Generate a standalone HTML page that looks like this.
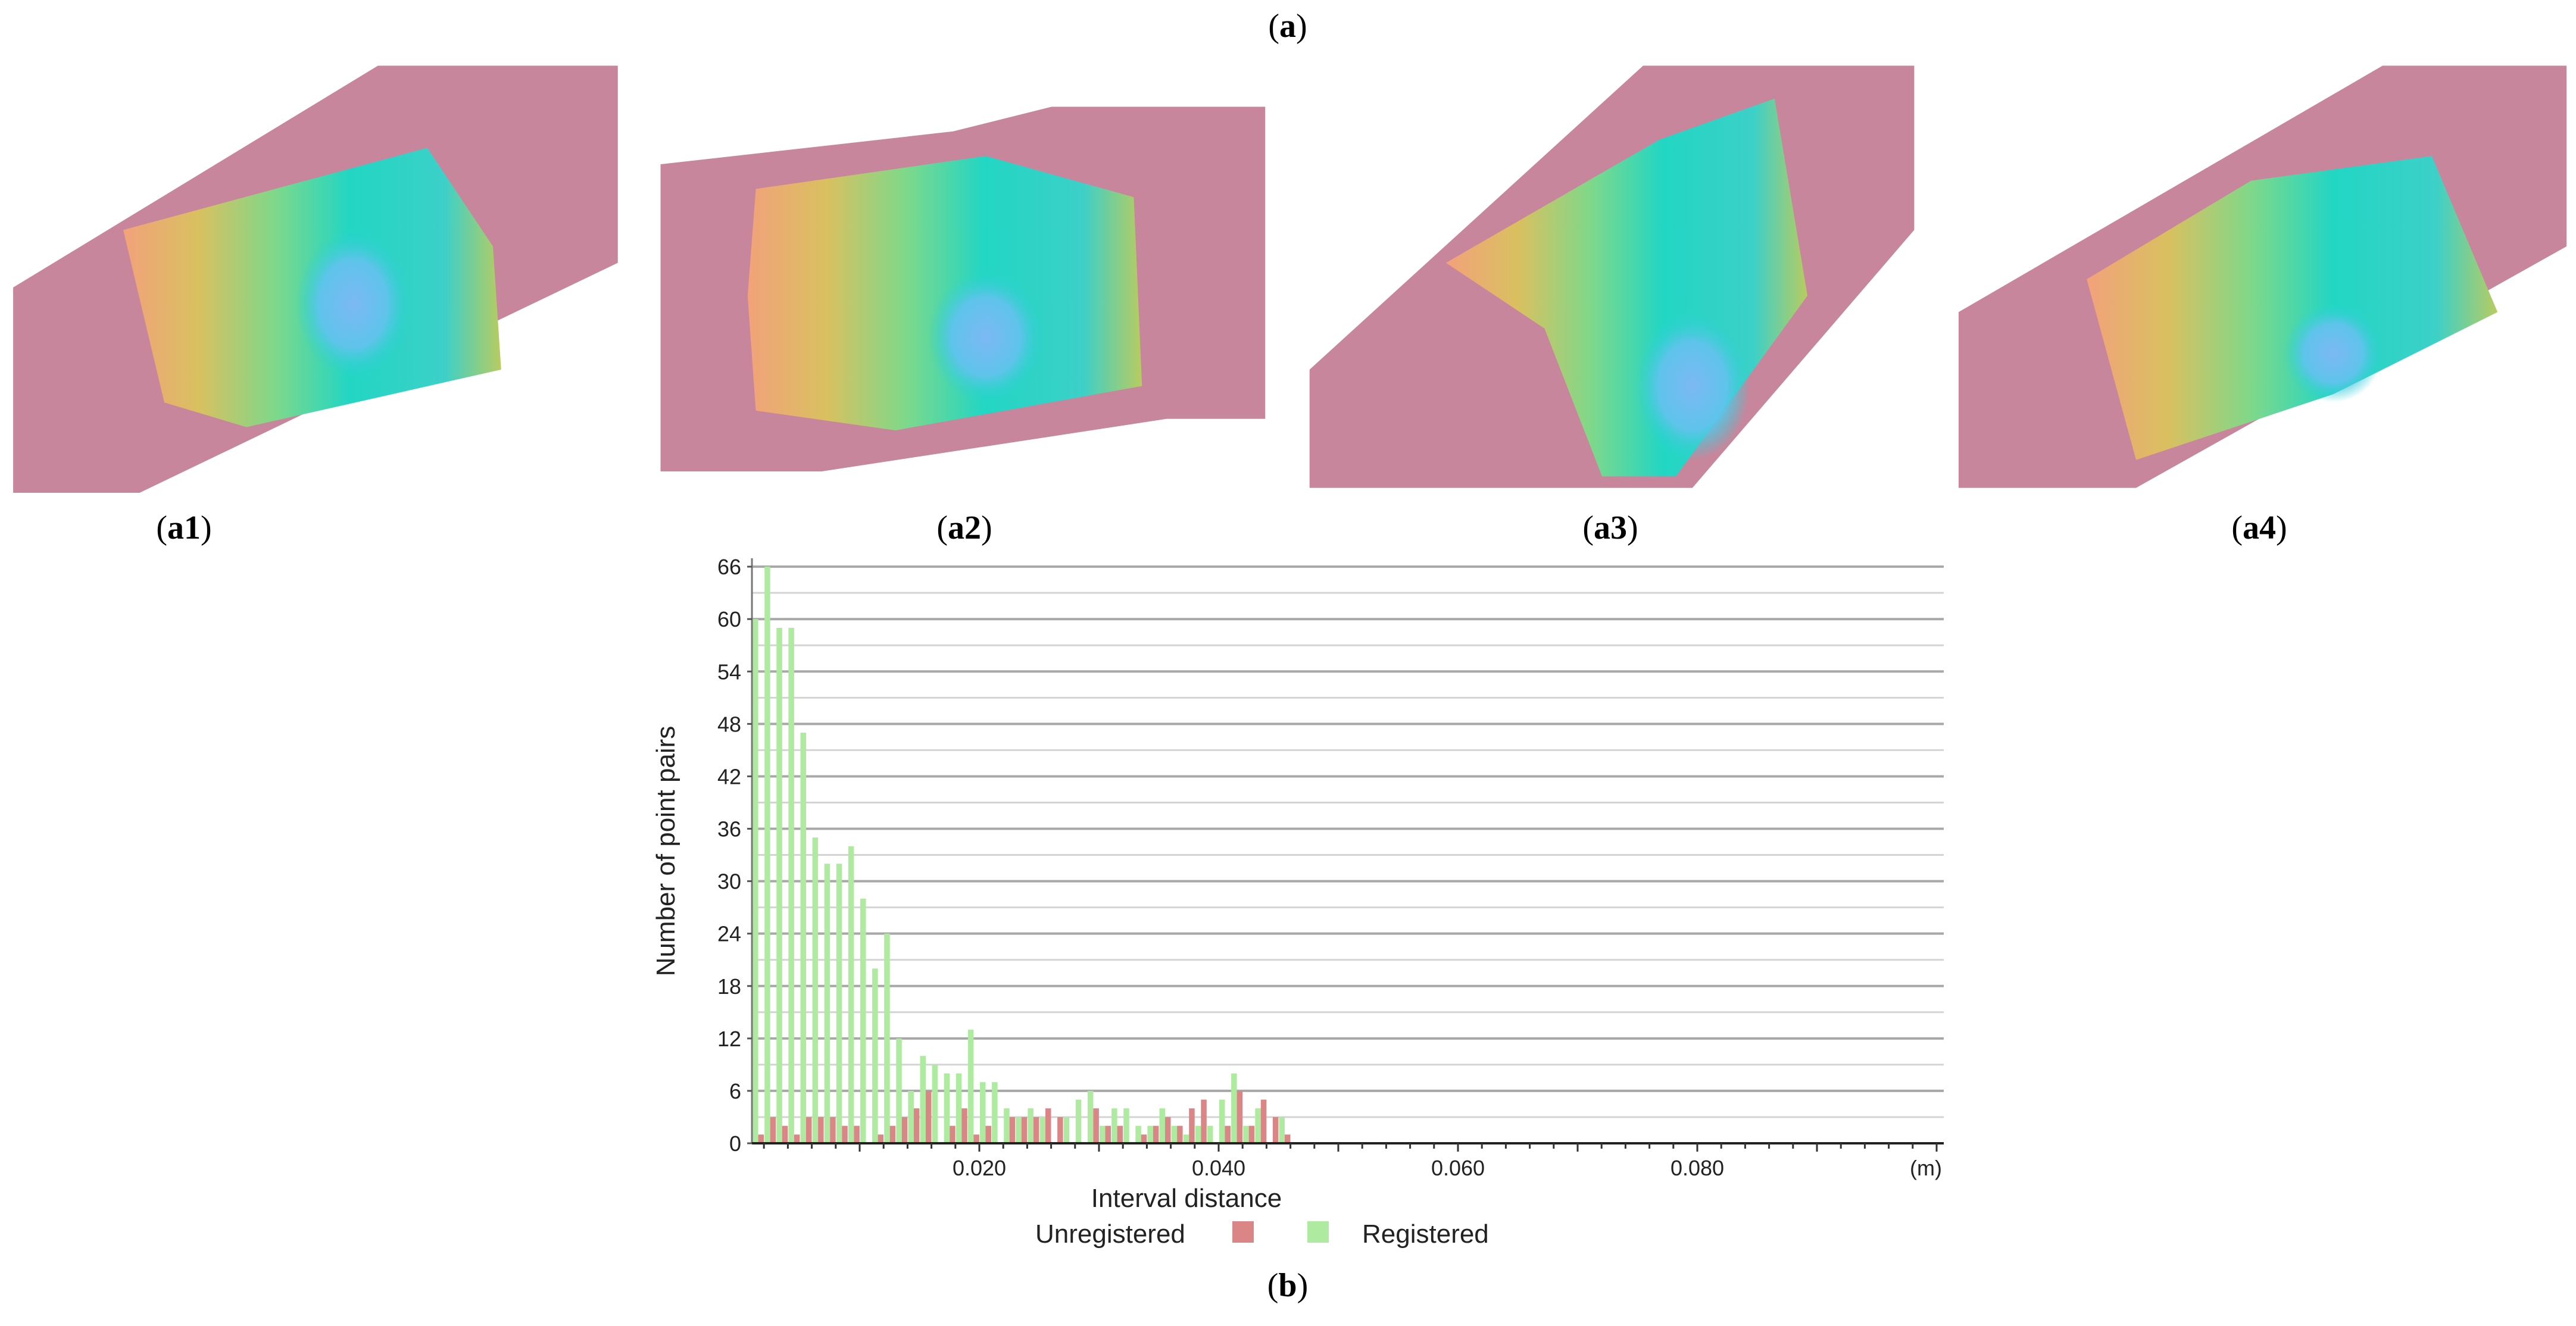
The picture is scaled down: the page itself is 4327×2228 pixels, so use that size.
<!DOCTYPE html>
<html><head><meta charset="utf-8"><style>
html,body{margin:0;padding:0;background:#fff;}
svg{display:block;}
</style></head><body>
<svg id="fig" width="4327" height="2228" viewBox="0 0 4327 2228" xmlns="http://www.w3.org/2000/svg">
<defs>
<linearGradient id="rb" x1="0" y1="0" x2="1" y2="0">
<stop offset="0" stop-color="#f2a27a"/><stop offset="0.2" stop-color="#d9c060"/><stop offset="0.4" stop-color="#7fd88a"/><stop offset="0.6" stop-color="#22d6c4"/><stop offset="0.85" stop-color="#3cd0c8"/><stop offset="1" stop-color="#b8cc60"/>
</linearGradient>
<radialGradient id="bl"><stop offset="0" stop-color="#7cb8f4"/><stop offset="0.6" stop-color="#5ec4ea"/><stop offset="1" stop-color="#28d2d0" stop-opacity="0"/></radialGradient>
</defs>
<text x="2163" y="62" font-family="Liberation Serif, serif" font-size="56" text-anchor="middle">(<tspan font-weight="bold">a</tspan>)</text>
<g transform="scale(2.76)">
 <g>
  <polygon points="8,175 230,40 376,40 376,160 85,300 8,300" fill="#c8869c"/>
  <polygon points="75,140 260,90 300,150 305,225 150,260 100,245" fill="url(#rb)"/>
  <ellipse cx="215" cy="185" rx="35" ry="45" fill="url(#bl)"/>
 </g>
 <g>
  <polygon points="402,100 580,80 640,65 770,65 770,255 710,255 500,287 402,287" fill="#c8869c"/>
  <polygon points="460,115 600,95 690,120 695,235 545,262 460,250 455,180" fill="url(#rb)"/>
  <ellipse cx="600" cy="205" rx="35" ry="40" fill="url(#bl)"/>
 </g>
 <g>
  <polygon points="797,225 1000,40 1165,40 1165,140 1030,297 797,297" fill="#c8869c"/>
  <polygon points="880,160 1010,85 1080,60 1100,180 1020,290 975,290 940,200" fill="url(#rb)"/>
  <ellipse cx="1030" cy="235" rx="35" ry="45" fill="url(#bl)"/>
 </g>
 <g>
  <polygon points="1192,190 1450,40 1562,40 1562,150 1300,297 1192,297" fill="#c8869c"/>
  <polygon points="1270,170 1370,110 1480,95 1520,190 1420,240 1300,280" fill="url(#rb)"/>
  <ellipse cx="1420" cy="215" rx="30" ry="30" fill="url(#bl)"/>
 </g>
</g>
<g font-family="Liberation Serif, serif" font-size="56" text-anchor="middle">
<text x="309" y="905">(<tspan font-weight="bold">a1</tspan>)</text>
<text x="1620" y="905">(<tspan font-weight="bold">a2</tspan>)</text>
<text x="2705" y="905">(<tspan font-weight="bold">a3</tspan>)</text>
<text x="3795" y="905">(<tspan font-weight="bold">a4</tspan>)</text>
<text x="2163" y="2178">(<tspan font-weight="bold">b</tspan>)</text>
</g>
<g id="chart"></g>
</svg>
<script>
const registered = [60,66,59,59,47,35,32,32,34,28,20,24,12,6,10,9,8,8,13,7,7,4,3,4,3,0,3,5,6,2,4,4,2,2,4,2,1,2,2,5,8,2,4,0,3];
const unregistered = [1,3,2,1,3,3,3,2,2,0,1,2,3,4,6,0,2,4,1,2,0,3,3,3,4,3,0,0,4,2,2,0,1,2,3,2,4,5,0,2,6,2,5,3,1];
const yTicks = [0,6,12,18,24,30,36,42,48,54,60,66];
const xTicks = [0.020,0.040,0.060,0.080];
const binWidth = 0.001;

const NS='http://www.w3.org/2000/svg';
const g=document.getElementById('chart');
const X0=1243, PXU=20.1/0.001, Y0=1921, PYU=14.68;
const xs=v=>X0+v*PXU, ys=v=>Y0-v*PYU;
const L=xs(0.0005)+10, R=3265;
function mk(t,a){const e=document.createElementNS(NS,t);for(const k in a)e.setAttribute(k,a[k]);g.appendChild(e);return e;}
// gridlines
for(let v=3;v<=66;v+=3){
 const ln=mk('line',{x1:L,x2:R,y1:ys(v),y2:ys(v),stroke:v%6===0?'#a8a8a8':'#d4d4d4','stroke-width':v%6===0?4:3});
 
 
}
// bars
registered.forEach((v,k)=>{
 const x=xs(binWidth*(k+1));
 const r=mk('rect',{x:x+1,y:ys(v),width:9.5,height:v*PYU,fill:'#aeeaa0'});
 
 
});
unregistered.forEach((v,k)=>{
 const x=xs(binWidth*(k+1));
 const r=mk('rect',{x:x+10.5,y:ys(v),width:9.5,height:v*PYU,fill:'#da8686'});
 
 
});
// axes
const ya=mk('line',{x1:L,x2:L,y1:938,y2:Y0,stroke:'#777','stroke-width':3});


const xa=mk('line',{x1:L,x2:R,y1:Y0,y2:Y0,stroke:'#222','stroke-width':4});


for(let i=1;i<=50;i++){
 const x=xs(i*0.002); if(x>R)break;
 const t=mk('line',{x1:x,x2:x,y1:Y0,y2:Y0+(i%5===0?14:9),stroke:'#333','stroke-width':3});
 
 
}
yTicks.forEach(v=>{
 const t=mk('line',{x1:L-8,x2:L,y1:ys(v),y2:ys(v),stroke:'#555','stroke-width':3});
 
 
 const tx=mk('text',{x:L-18,y:ys(v)+13,'font-family':'Liberation Sans, sans-serif','font-size':36,'text-anchor':'end',fill:'#222'});
 tx.textContent=v;
 
 
});
xTicks.forEach(v=>{
 const tx=mk('text',{x:xs(v),y:1975,'font-family':'Liberation Sans, sans-serif','font-size':36,'text-anchor':'middle',fill:'#222'});
 tx.textContent=v.toFixed(3);
 
 
});
const unit=mk('text',{x:3235,y:1975,'font-family':'Liberation Sans, sans-serif','font-size':36,'text-anchor':'middle',fill:'#222'});
unit.textContent='(m)';


const xt=mk('text',{x:1993,y:2028,'font-family':'Liberation Sans, sans-serif','font-size':44,'text-anchor':'middle',fill:'#222'});
xt.textContent='Interval distance';


const yt=mk('text',{x:0,y:0,'font-family':'Liberation Sans, sans-serif','font-size':44,'text-anchor':'middle',fill:'#222',transform:'translate(1133,1430) rotate(-90)'});
yt.textContent='Number of point pairs';


// legend
const l1=mk('text',{x:1739,y:2088,'font-family':'Liberation Sans, sans-serif','font-size':44,fill:'#222'});
l1.textContent='Unregistered';


const s1=mk('rect',{x:2070,y:2052,width:36,height:36,fill:'#da8686'});


const s2=mk('rect',{x:2196,y:2052,width:36,height:36,fill:'#aeeaa0'});


const l2=mk('text',{x:2288,y:2088,'font-family':'Liberation Sans, sans-serif','font-size':44,fill:'#222'});
l2.textContent='Registered';


</script>
</body></html>
